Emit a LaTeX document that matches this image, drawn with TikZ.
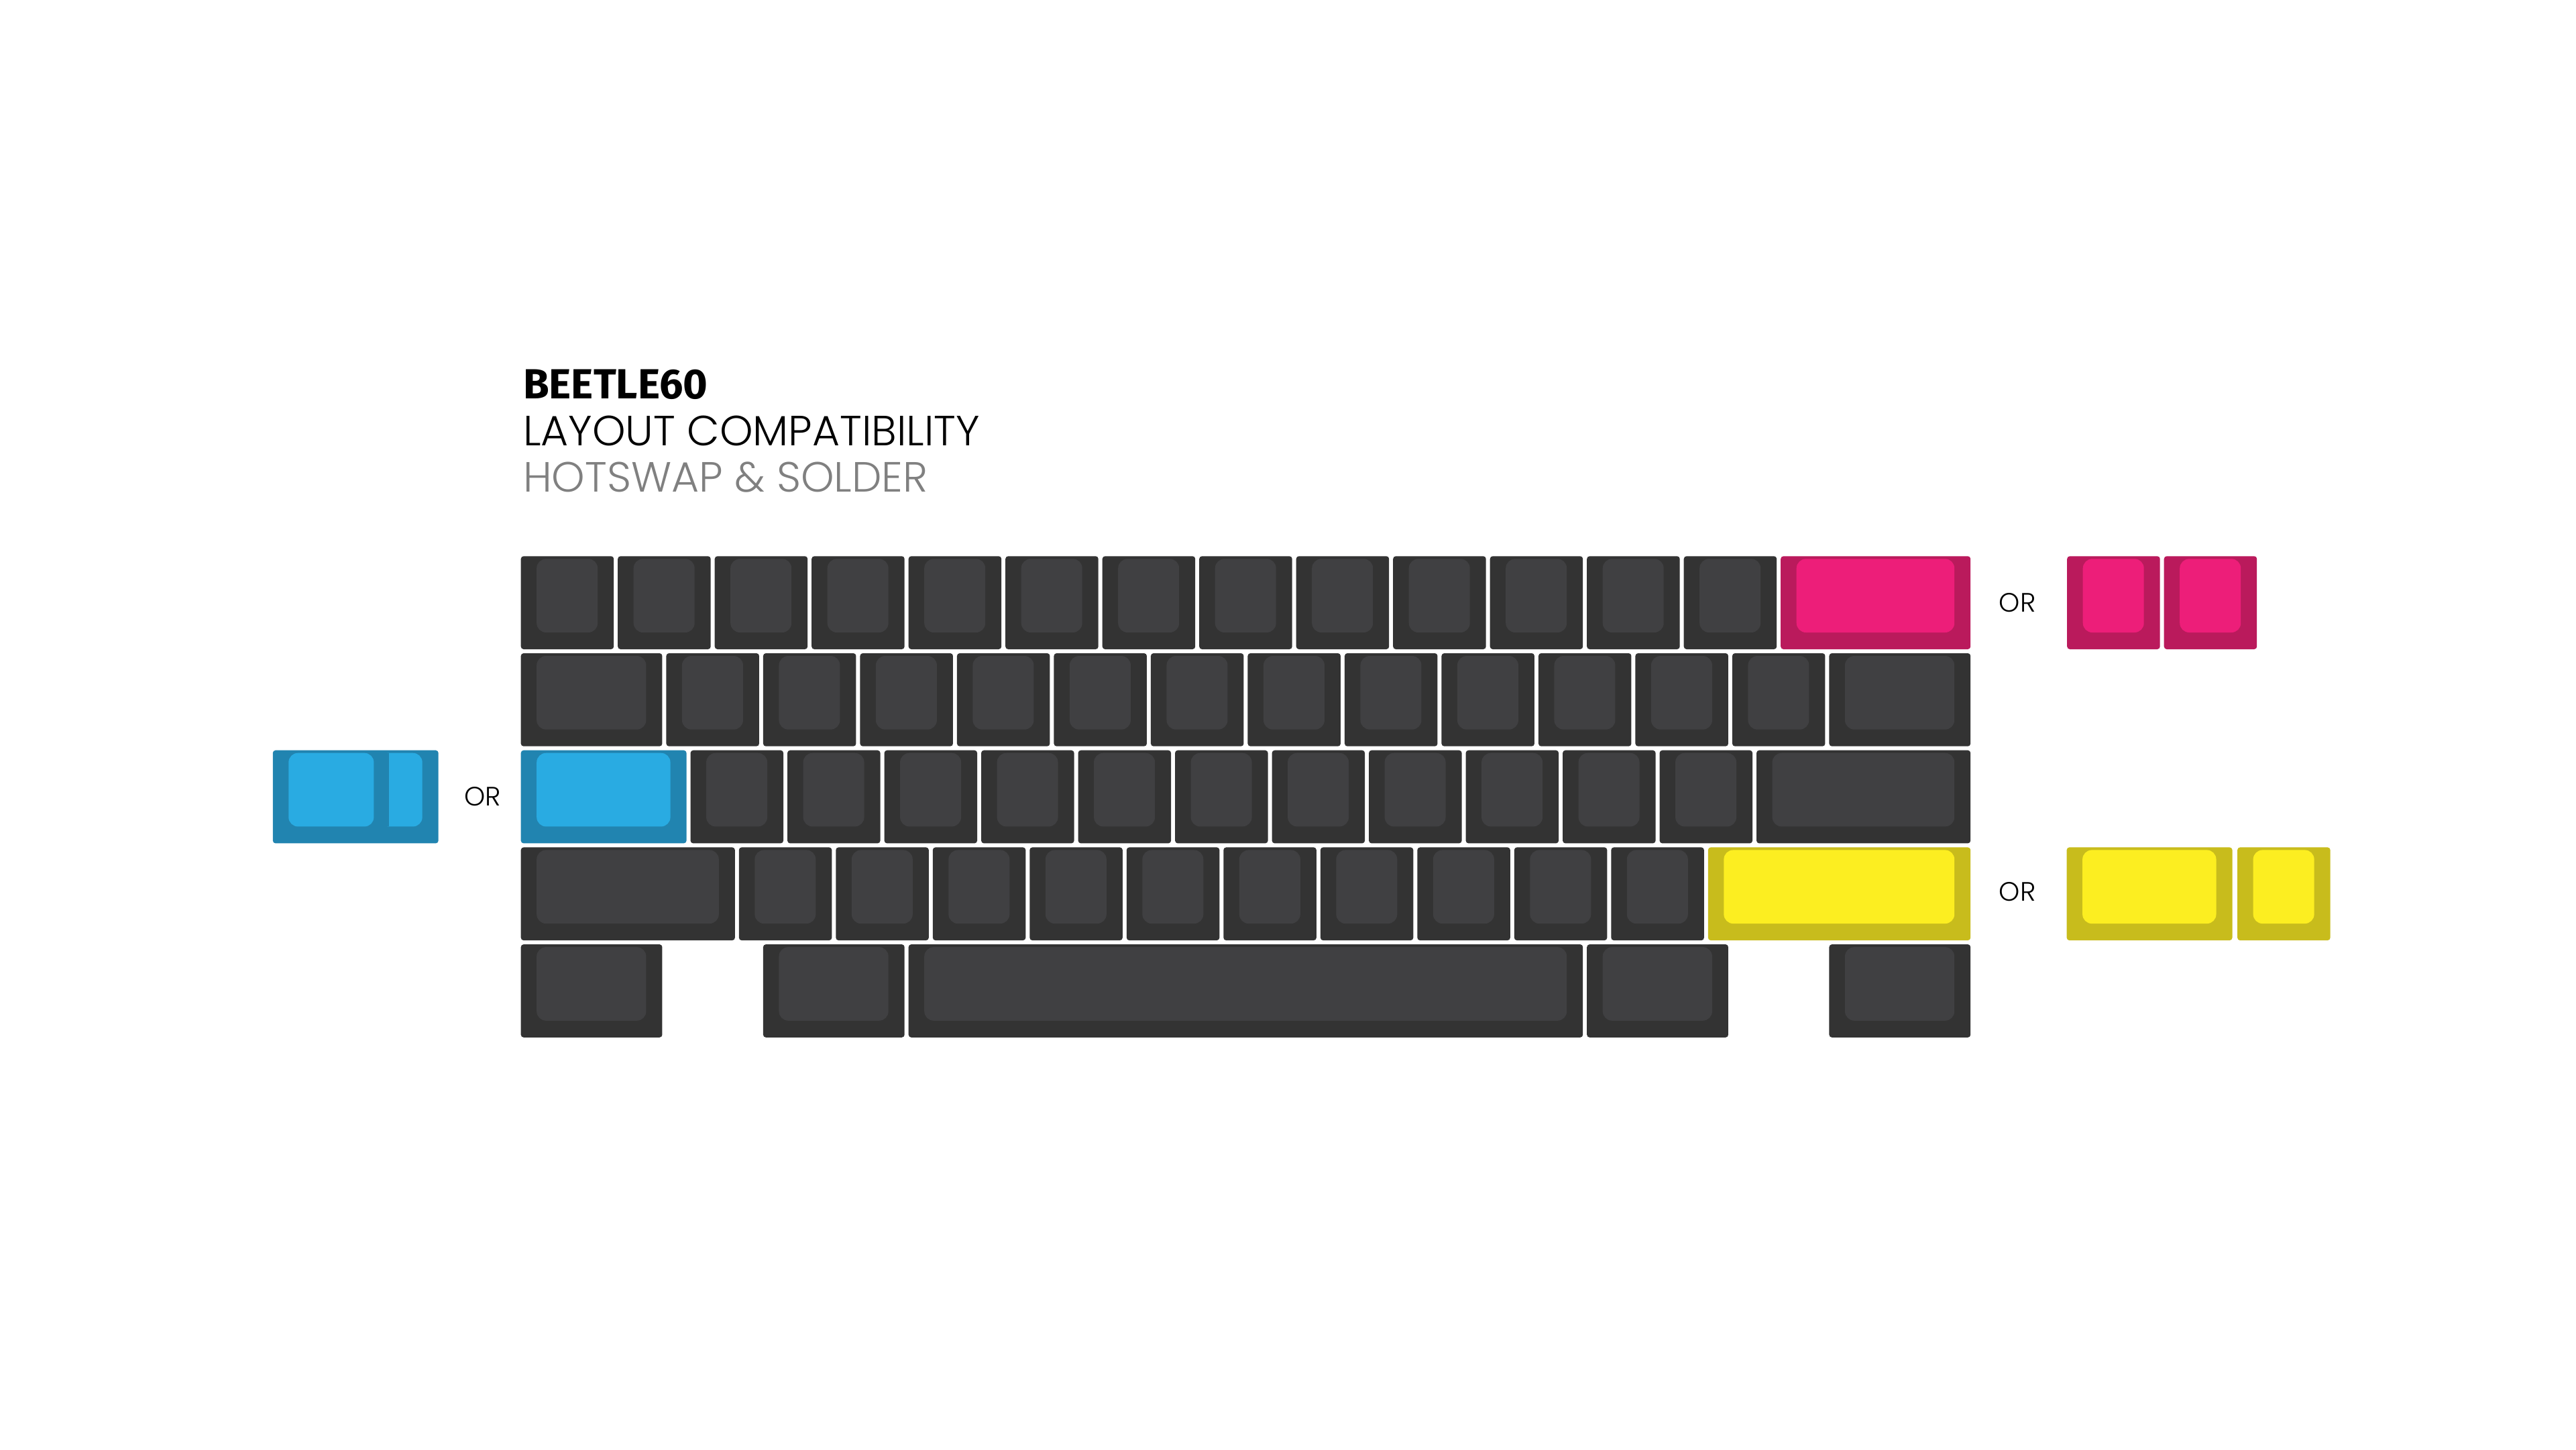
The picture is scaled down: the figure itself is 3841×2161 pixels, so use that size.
\documentclass[tikz,border=0pt]{standalone}
\usepackage{fontspec}
\setmainfont{Poppins}
\newfontfamily\poplight{Poppins Light}
\newfontfamily\firaf{Fira Sans}
\definecolor{dko}{HTML}{333333}
\definecolor{dki}{HTML}{404042}
\definecolor{pko}{HTML}{BA1A5C}
\definecolor{pki}{HTML}{ED1E79}
\definecolor{blo}{HTML}{2184B0}
\definecolor{bli}{HTML}{29ABE2}
\definecolor{ylo}{HTML}{C8BC1C}
\definecolor{yli}{HTML}{FCEE21}
\definecolor{subgray}{HTML}{808080}
\newcommand\pkey[4]{%
  \fill[#4o, rounded corners=4pt] (#1,#2) rectangle (#1+#3,#2+138.7);
  \fill[#4i, rounded corners=14pt] (#1+23.5,#2+4) rectangle (#1+#3-24,#2+113.7);
}
\newcommand\ukey[4]{%
  \pgfmathsetmacro\kx{776.7+(#1)*144.5}%
  \pgfmathsetmacro\ky{829.3+(#2)*144.7}%
  \pgfmathsetmacro\kw{(#3)*144.5-6}%
  \pkey{\kx}{\ky}{\kw}{#4}}
\tikzset{
  orlabel/.style={inner sep=0, font=\poplight\fontsize{39.7}{44}\selectfont, text=black},
  headline/.style={anchor=base west, inner sep=0}
}
\begin{document}
\begin{tikzpicture}[x=1pt,y=-1pt]
\fill[white] (0,0) rectangle (3841,2161);
\useasboundingbox (0,0) rectangle (3841,2161);
% row 1
\foreach \c in {0,...,12} {\ukey{\c}{0}{1}{dk}}
\ukey{13}{0}{2}{pk}
% row 2
\ukey{0}{1}{1.5}{dk}
\foreach \c in {0,...,11} {\ukey{1.5+\c}{1}{1}{dk}}
\ukey{13.5}{1}{1.5}{dk}
% row 3
\ukey{0}{2}{1.75}{bl}
\foreach \c in {0,...,10} {\ukey{1.75+\c}{2}{1}{dk}}
\ukey{12.75}{2}{2.25}{dk}
% row 4
\ukey{0}{3}{2.25}{dk}
\foreach \c in {0,...,9} {\ukey{2.25+\c}{3}{1}{dk}}
\ukey{12.25}{3}{2.75}{yl}
% row 5
\ukey{0}{4}{1.5}{dk}
\ukey{2.5}{4}{1.5}{dk}
\ukey{4}{4}{7}{dk}
\ukey{11}{4}{1.5}{dk}
\ukey{13.5}{4}{1.5}{dk}
% alternatives
\pkey{3082.2}{829.3}{138.5}{pk}
\pkey{3226.7}{829.3}{138.5}{pk}
\pkey{3081.6}{1263.4}{246.9}{yl}
\pkey{3336.1}{1263.4}{138.5}{yl}
% blue split alternative
\fill[blo, rounded corners=4pt] (406.8,1118.7) rectangle (653.7,1257.4);
\fill[bli, rounded corners=14pt] (566,1122.7) rectangle (629.7,1232.4);
\fill[blo] (557.4,1122.7) rectangle (580,1232.4);
\fill[bli, rounded corners=14pt] (430.3,1122.7) rectangle (557.4,1232.4);
% texts
\node[headline, font=\firaf\bfseries\fontsize{62.8}{70}\selectfont] (title) at (780,594) {BEETLE60};
\node[headline, font=\poplight\fontsize{63}{70}\selectfont] (sub1) at (780,664) {LAYOUT COMPATIBILITY};
\node[headline, font=\poplight\fontsize{63}{70}\selectfont, text=subgray] (sub2) at (780,733.3) {HOTSWAP \& SOLDER};
\node[orlabel] (or1) at (3008,898.7) {OR};
\node[orlabel] (or2) at (3008,1330) {OR};
\node[orlabel] (or3) at (719.8,1187.8) {OR};
\end{tikzpicture}
\end{document}
